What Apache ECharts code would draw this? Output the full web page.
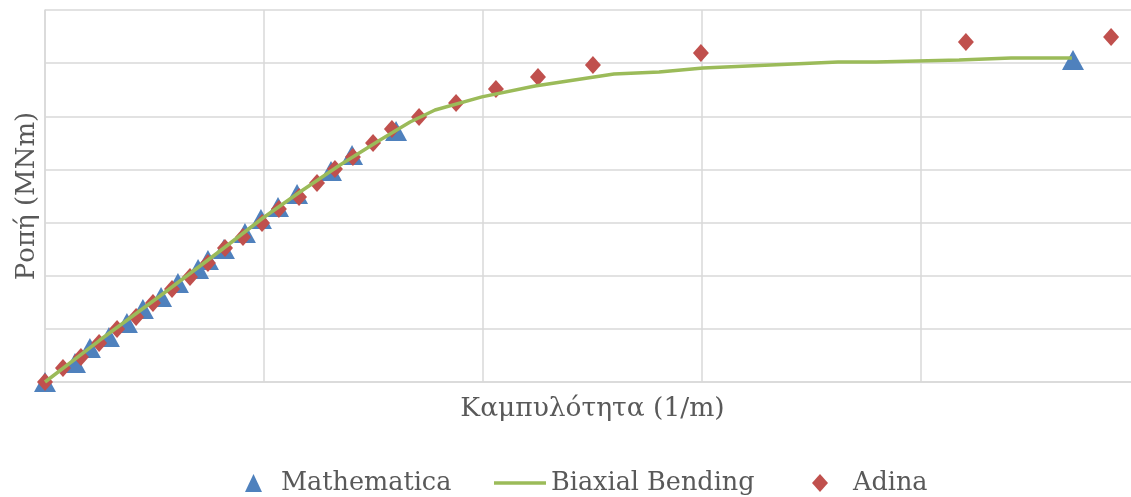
<!DOCTYPE html>
<html>
<head>
<meta charset="utf-8">
<script src="https://cdn.jsdelivr.net/npm/echarts@6/dist/echarts.min.js"></script>
<style>html,body{margin:0;padding:0;background:#fff;overflow:hidden;width:1131px;height:497px}#c{width:1140px;height:497px}</style>
</head>
<body>
<div id="c"></div>
<script>
// Curvature (x) and moment (y) in gridline units
const mathematicaX = [0, 0.137, 0.205, 0.292, 0.374, 0.447, 0.530, 0.607, 0.699, 0.744, 0.817, 0.913, 0.986, 1.064, 1.151, 1.306, 1.402, 1.603, 4.694];
const mathematicaY = [0, 0.358, 0.640, 0.847, 1.110, 1.374, 1.600, 1.863, 2.126, 2.296, 2.503, 2.804, 3.067, 3.293, 3.538, 3.971, 4.272, 4.723, 6.059];

const biaxialX = [0, 0.251, 0.525, 0.799, 0.995, 1.164, 1.347, 1.530, 1.667, 1.781, 1.995, 2.237, 2.598, 2.804, 3.005, 3.621, 3.795, 4.174, 4.411, 4.689];
const biaxialY = [0, 0.790, 1.618, 2.465, 3.086, 3.575, 4.084, 4.554, 4.893, 5.119, 5.365, 5.570, 5.796, 5.834, 5.909, 6.022, 6.022, 6.059, 6.097, 6.097];

const adinaX = [0, 0.082, 0.164, 0.247, 0.329, 0.416, 0.493, 0.580, 0.662, 0.744, 0.822, 0.904, 0.991, 1.068, 1.160, 1.242, 1.324, 1.406, 1.498, 1.584, 1.708, 1.877, 2.059, 2.251, 2.502, 2.995, 4.205, 4.868];
const adinaY = [0, 0.263, 0.470, 0.734, 0.997, 1.223, 1.487, 1.750, 1.976, 2.239, 2.522, 2.729, 2.992, 3.256, 3.481, 3.745, 4.008, 4.234, 4.498, 4.761, 4.987, 5.250, 5.514, 5.740, 5.965, 6.191, 6.398, 6.492];

const seriesNames = ['Mathematica', 'Biaxial Bending', 'Adina'];
const xTitle = 'Καμπυλότητα (1/m)';
const yTitle = 'Ροπή (MNm)';

const zip = (xs, ys) => xs.map((x, i) => [x, ys[i]]);
const FONT = 'DejaVu Serif';
const TXT = '#595959';
const GRID = '#d9d9d9';

const chart = echarts.init(document.getElementById('c'), null, {renderer: 'canvas'});
const lt = (padLeft) => ({fontFamily: FONT, fontSize: 25.5, color: TXT, padding: [0, 0, 0, padLeft]});
chart.setOption({
  animation: false,
  backgroundColor: '#fff',
  grid: {left: 45, right: 0, top: 10, bottom: 115, containLabel: false},
  xAxis: {
    type: 'value', min: 0, max: 5, interval: 1,
    name: xTitle, nameLocation: 'middle', nameGap: 14,
    nameTextStyle: {fontFamily: FONT, fontSize: 26.5, color: TXT},
    axisLine: {show: true, lineStyle: {color: GRID, width: 1.5}},
    axisTick: {show: false}, axisLabel: {show: false},
    splitLine: {show: true, lineStyle: {color: GRID, width: 1.5}}
  },
  yAxis: {
    type: 'value', min: 0, max: 7, interval: 1,
    name: yTitle, nameLocation: 'middle', nameGap: 5,
    nameTextStyle: {fontFamily: FONT, fontSize: 26, color: TXT},
    axisLine: {show: true, lineStyle: {color: GRID, width: 1.5}},
    axisTick: {show: false}, axisLabel: {show: false},
    splitLine: {show: true, lineStyle: {color: GRID, width: 1.5}}
  },
  legend: [
    {data: [{name: seriesNames[0], icon: 'triangle'}], left: 240, top: 465, itemWidth: 17, itemHeight: 18, textStyle: lt(14)},
    {data: [{name: seriesNames[1], icon: 'rect'}], left: 489, top: 465, itemWidth: 52, itemHeight: 3.5, textStyle: lt(0)},
    {data: [{name: seriesNames[2], icon: 'diamond'}], left: 807, top: 465, itemWidth: 16, itemHeight: 18, textStyle: lt(20)}
  ],
  series: [
    {name: seriesNames[0], type: 'scatter', data: zip(mathematicaX, mathematicaY),
     symbol: 'triangle', symbolSize: [22, 20], itemStyle: {color: '#4f81bd', opacity: 1}},
    {name: seriesNames[1], type: 'line', data: zip(biaxialX, biaxialY),
     symbol: 'none', smooth: false, lineStyle: {color: '#9bbb59', width: 3.5}, itemStyle: {color: '#9bbb59'}},
    {name: seriesNames[2], type: 'scatter', data: zip(adinaX, adinaY),
     symbol: 'diamond', symbolSize: [16, 18], itemStyle: {color: '#c0504d', opacity: 1}}
  ]
});
</script>
</body>
</html>
